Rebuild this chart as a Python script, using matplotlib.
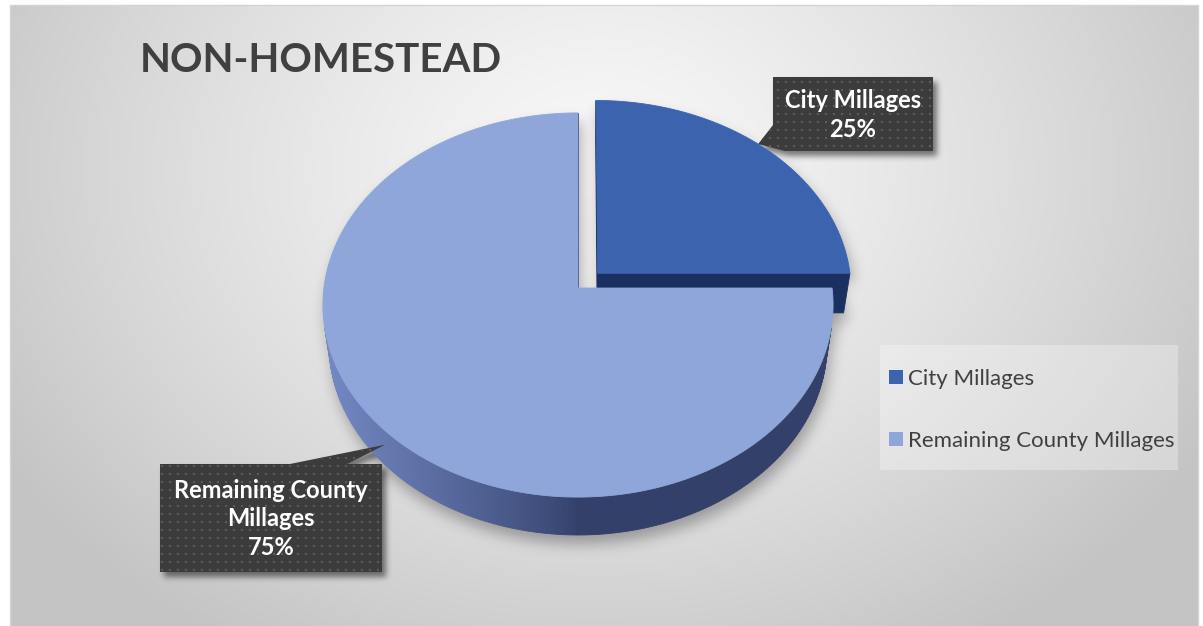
import textwrap
import numpy as np
import matplotlib
matplotlib.use('Agg')
import matplotlib.pyplot as plt
from matplotlib.patches import Polygon, Rectangle, Patch
from matplotlib.path import Path

plt.rcParams['font.family'] = ['Lato', 'DejaVu Sans']

W, H = 1203, 626

title = 'NON-HOMESTEAD'
labels = ['City Millages', 'Remaining County Millages']
values = [25, 75]

top_colors = ['#3B63AE', '#8FA6DA']
wall_dark = np.array([[28, 48, 96], [50, 64, 106]]) / 255
wall_light = np.array([[44, 76, 140], [118, 138, 198]]) / 255
explode = [0.11, 0.0]

# callout boxes: centre, size, and where the pointer lands (angle, fraction of wall height)
box_centers = [(853, 114), (271, 518)]
box_sizes = [(160, 74), (222, 108)]
tip_spots = [(43, 0.0), (226, 0.4)]

# 3d pie camera
cx, cy = 578, 288
focal = 1898.0
dist = 7.47
tilt = np.radians(48.6)
height = 0.241
st, ct = np.sin(tilt), np.cos(tilt)


def proj(x, z, yu=0.0):
    s = z * st - yu * ct
    d = dist - z * ct - yu * st
    return cx + focal * x / d, cy + focal * s / d


def rim(theta, ox, oz, yu=0.0):
    t = np.radians(theta)
    return proj(ox + np.sin(t), oz - np.cos(t), yu)


fig = plt.figure(figsize=(W / 100, H / 100), dpi=100)
ax = fig.add_axes([0, 0, 1, 1])
ax.set_xlim(0, W)
ax.set_ylim(H, 0)
ax.axis('off')

# chart area background
yy, xx = np.mgrid[0:H, 0:W] + 0.5
d = np.sqrt(((xx - 600) / 700) ** 2 + ((yy - 170) / 560) ** 2)
v = (248 - 52 * np.clip(d, 0, 1) ** 1.3) / 255
bg = np.dstack([v, v, v, np.ones_like(v)])
inside = (xx >= 10) & (xx <= 1198) & (yy >= 5)
bg[~inside] = [1, 1, 1, 1]
ax.imshow(bg, extent=(0, W, H, 0), zorder=0, interpolation='nearest')
ax.add_patch(Rectangle((10, 5), 1188, 640, fill=False, ec='#d4d4d4', lw=1, zorder=0.5))

fracs = np.array(values) / sum(values)
starts = np.concatenate([[0], np.cumsum(fracs)[:-1]]) * 360
ends = starts + fracs * 360

slices = []
for i in range(len(values)):
    mid = np.radians((starts[i] + ends[i]) / 2)
    ox, oz = explode[i] * np.sin(mid), -explode[i] * np.cos(mid)
    th = np.linspace(starts[i], ends[i], max(int(fracs[i] * 400), 20))
    ax_t, ay_t = proj(ox, oz)
    ax_b, ay_b = proj(ox, oz, -height)
    tx, ty = rim(th, ox, oz)
    bx, by = rim(th, ox, oz, -height)
    top = np.column_stack([np.r_[ax_t, tx], np.r_[ay_t, ty]])
    bot = np.column_stack([np.r_[ax_b, bx], np.r_[ay_b, by]])
    slices.append(dict(i=i, ox=ox, oz=oz, th=th, top=top, bot=bot))

# soft shadows behind the pie and the callouts
pts = np.column_stack([xx.ravel(), yy.ravel()])
mask_pie = np.zeros(H * W, bool)
for sl in slices:
    for poly in (sl['top'], sl['bot']):
        mask_pie |= Path(poly + [3, 9]).contains_points(pts)
mask_pie = mask_pie.reshape(H, W).astype(float)

callouts = []
for i in range(len(values)):
    bxc, byc = box_centers[i]
    bw, bh = box_sizes[i]
    l, r, t, b = bxc - bw / 2, bxc + bw / 2, byc - bh / 2, byc + bh / 2
    ang, frac = tip_spots[i]
    sl = slices[i]
    tip = rim(ang, sl['ox'], sl['oz'], -height * frac)
    if tip[1] < t:
        # pointer leaves from the top edge
        shape = [(l, t), (l + 130, t), tip, (l + 187, t), (r, t), (r, b), (l, b)]
    else:
        # pointer leaves from the lower left corner
        shape = [(l, t), (r, t), (r, b), (l + 12, b), tip, (l, b - 26)]
    callouts.append(dict(shape=np.array(shape, float), rect=(l, r, t, b), center=(bxc, byc)))

mask_box = np.zeros(H * W, bool)
for c in callouts:
    mask_box |= Path(c['shape'] + [4, 5]).contains_points(pts)
mask_box = mask_box.reshape(H, W).astype(float)


def blur(a, sigma):
    k = np.arange(-3 * sigma, 3 * sigma + 1)
    k = np.exp(-k ** 2 / (2 * sigma ** 2))
    k /= k.sum()
    a = np.apply_along_axis(lambda m: np.convolve(m, k, mode='same'), 0, a)
    return np.apply_along_axis(lambda m: np.convolve(m, k, mode='same'), 1, a)


shade = np.clip(0.3 * blur(mask_pie, 7) + 0.5 * blur(mask_box, 3), 0, 1)
shadow = np.zeros((H, W, 4))
shadow[..., 3] = shade
ax.imshow(shadow, extent=(0, W, H, 0), zorder=1, interpolation='bilinear')

# pie: far slice first, walls before tops
order = sorted(range(len(slices)), key=lambda k: slices[k]['oz'])
z = 2
for k in order:
    sl = slices[k]
    i = sl['i']
    top, bot = sl['top'], sl['bot']
    n = len(top)
    walls = []
    for j in range(n):
        jn = (j + 1) % n
        quad = np.array([top[j], top[jn], bot[jn], bot[j]])
        xs, ys = quad[:, 0], quad[:, 1]
        area = np.sum(xs * np.roll(ys, -1) - np.roll(xs, -1) * ys)
        if area >= 0:
            continue
        if 1 <= j < n - 1:
            tm = np.radians((sl['th'][j - 1] + sl['th'][j]) / 2)
            w = np.clip(-np.sin(tm), 0, 1) ** 0.8
        else:
            w = 0.0
        col = wall_dark[i] + (wall_light[i] - wall_dark[i]) * w
        walls.append((quad[:, 1].mean(), quad, col))
    for _, quad, col in sorted(walls, key=lambda q: q[0]):
        ax.add_patch(Polygon(quad, closed=True, fc=col, ec=col, lw=0.6, zorder=z))
    z += 0.1
    ax.add_patch(Polygon(top, closed=True, fc=top_colors[i], ec=top_colors[i], lw=0.6, zorder=z))
    z += 0.1

# callout boxes with dotted fill
dot_x, dot_y = np.meshgrid(np.arange(0, W, 8) + 2, np.arange(0, H, 8) + 2)
for i, c in enumerate(callouts):
    patch = Polygon(c['shape'], closed=True, fc='#3C3C3C', ec='none', zorder=5)
    ax.add_patch(patch)
    l, r, t, b = c['rect']
    sel = (dot_x > l - 30) & (dot_x < r + 30) & (dot_y > t - 40) & (dot_y < b + 40)
    dots = ax.scatter(dot_x[sel], dot_y[sel], s=1.6, marker='s', c='#5C5C5C', lw=0, zorder=5.1)
    dots.set_clip_path(patch)
    txt = textwrap.fill(labels[i], 16) + '\n' + f'{values[i] / sum(values) * 100:.0f}%'
    ax.text(c['center'][0], c['center'][1] + 1, txt, ha='center', va='center', color='white',
            fontsize=17, fontweight='bold', linespacing=1.27, zorder=6)

# title
ax.text(140, 60, title, ha='left', va='center', fontsize=29, fontweight='bold', color='#404040', zorder=6)

# legend
ax.add_patch(Rectangle((880, 345), 298, 125, fc='white', alpha=0.3, ec='none', zorder=1.5))
handles = [Patch(fc=top_colors[i], ec='none') for i in range(len(labels))]
ax.legend(handles, labels, loc='center left', bbox_to_anchor=(889, 410), bbox_transform=ax.transData,
          frameon=False, fontsize=16, handlelength=0.62, handleheight=0.62, handletextpad=0.25,
          labelspacing=1.9, labelcolor='#404040', borderpad=0, borderaxespad=0)

fig.savefig('out.png', dpi=100)
